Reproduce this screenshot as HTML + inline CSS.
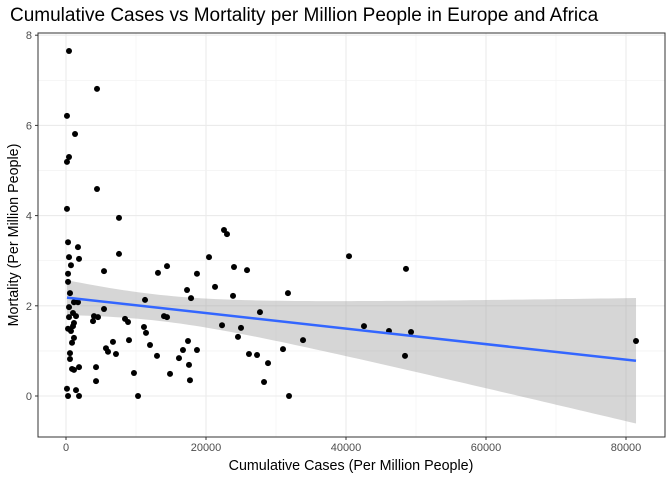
<!DOCTYPE html>
<html><head><meta charset="utf-8"><style>
body{margin:0;background:#fff;font-family:"Liberation Sans",sans-serif}
svg{display:block}
</style></head><body>
<svg id="c" width="672" height="480" xmlns="http://www.w3.org/2000/svg">
<text x="10" y="21" font-size="19" fill="#000">Cumulative Cases vs Mortality per Million People in Europe and Africa</text>
<text x="351" y="470" font-size="14.3" text-anchor="middle" fill="#000">Cumulative Cases (Per Million People)</text>
<text transform="translate(18,235) rotate(-90)" font-size="14.3" text-anchor="middle" fill="#000">Mortality (Per Million People)</text>
<g id="grid"></g><g id="ribbon"></g><g id="pts"></g><g id="axes"></g>
</svg>
<script>
const xs=[430,4430,140,1290,430,140,4430,140,7570,290,1710,430,1860,7570,710,5430,290,13140,14430,20430,18710,290,21290,17290,17860,570,11290,5430,14000,14430,430,1140,1710,1000,1430,430,4000,4570,3860,8430,8860,1140,1000,290,710,11140,11430,1140,860,6710,9000,12000,17430,16710,18710,5710,6000,7140,570,570,13000,16140,17570,860,1140,1860,4290,9710,14860,4290,17710,140,1430,290,1860,10290,22570,23000,24000,25860,23860,27710,22290,25000,24570,26140,27290,28860,28290,31710,31000,33860,31860,40430,42570,46140,48570,48430,49290,81430];
const ys=[7.65,6.81,6.21,5.81,5.30,5.19,4.59,4.15,3.95,3.41,3.30,3.08,3.04,3.15,2.90,2.77,2.71,2.73,2.88,3.08,2.71,2.53,2.42,2.35,2.17,2.28,2.13,1.93,1.77,1.75,1.97,2.08,2.08,1.84,1.77,1.75,1.77,1.75,1.66,1.71,1.64,1.62,1.55,1.49,1.44,1.53,1.40,1.29,1.18,1.20,1.24,1.13,1.22,1.02,1.02,1.06,0.98,0.93,0.95,0.82,0.89,0.84,0.69,0.60,0.58,0.64,0.64,0.51,0.49,0.33,0.35,0.16,0.13,0,0,0,3.68,3.59,2.86,2.79,2.22,1.86,1.57,1.51,1.31,0.93,0.91,0.73,0.31,2.28,1.04,1.24,0,3.10,1.55,1.44,2.82,0.89,1.42,1.22];
const xTicks=[0,20000,40000,60000,80000];
const yTicks=[0,2,4,6,8];
const NS="http://www.w3.org/2000/svg";
const L=38,R=665,T=33,B=437;
const X=v=>66+v*0.007, Y=v=>396-v*45.1;
function mk(t,a,p){const e=document.createElementNS(NS,t);for(const k in a)e.setAttribute(k,a[k]);p.appendChild(e);return e;}
const g=document.getElementById('grid');
const bg=mk('rect',{x:L,y:T,width:R-L,height:B-T,fill:'#fff'},g);


for(let i=0;i<xTicks.length;i++){
  const m=xTicks[i]+10000;
  if(X(m)<R) mk('line',{x1:X(m),x2:X(m),y1:T,y2:B,stroke:'#f2f2f2','stroke-width':0.6},g);
  const l=mk('line',{x1:X(xTicks[i]),x2:X(xTicks[i]),y1:T,y2:B,stroke:'#ebebeb','stroke-width':1.1},g);
  
  
}
for(let i=0;i<yTicks.length;i++){
  for(const m of [yTicks[i]-1,yTicks[i]+1]) if(Y(m)>T&&Y(m)<B) mk('line',{x1:L,x2:R,y1:Y(m),y2:Y(m),stroke:'#f2f2f2','stroke-width':0.6},g);
  const l=mk('line',{x1:L,x2:R,y1:Y(yTicks[i]),y2:Y(yTicks[i]),stroke:'#ebebeb','stroke-width':1.1},g);
  
  
}
const n=xs.length;let mx=0,my=0;for(let i=0;i<n;i++){mx+=xs[i];my+=ys[i];}mx/=n;my/=n;
let sxx=0,sxy=0;for(let i=0;i<n;i++){sxx+=(xs[i]-mx)**2;sxy+=(xs[i]-mx)*(ys[i]-my);}
const b=sxy/sxx,a=my-b*mx;let sse=0;for(let i=0;i<n;i++)sse+=(ys[i]-a-b*xs[i])**2;
const s=Math.sqrt(sse/(n-2)),t=1.985;
let x0=Math.min(...xs),x1=Math.max(...xs);const up=[],lo=[];
for(let k=0;k<=80;k++){const x=x0+(x1-x0)*k/80,f=a+b*x,se=s*Math.sqrt(1/n+(x-mx)**2/sxx);up.push(X(x)+','+Y(f+t*se));lo.unshift(X(x)+','+Y(f-t*se));}
const rb=document.getElementById('ribbon');
const poly=mk('polygon',{points:up.concat(lo).join(' '),fill:'#999',opacity:0.4},rb);


const p=document.getElementById('pts');
for(let i=0;i<n;i++){const c=mk('circle',{cx:X(xs[i]),cy:Y(ys[i]),r:3,fill:'#000'},p);

}
const ln=mk('line',{x1:X(x0),y1:Y(a+b*x0),x2:X(x1),y2:Y(a+b*x1),stroke:'#3366ff','stroke-width':2.5},rb.parentNode);


const ax=document.getElementById('axes');
mk('rect',{x:L,y:T,width:R-L,height:B-T,fill:'none',stroke:'#333','stroke-width':1},ax);
for(let i=0;i<xTicks.length;i++){mk('line',{x1:X(xTicks[i]),x2:X(xTicks[i]),y1:B,y2:B+3,stroke:'#333'},ax);
const tx=mk('text',{x:X(xTicks[i]),y:B+14,'font-size':11,'text-anchor':'middle',fill:'#4d4d4d'},ax);tx.textContent=xTicks[i];

}
for(let i=0;i<yTicks.length;i++){mk('line',{x1:L-3,x2:L,y1:Y(yTicks[i]),y2:Y(yTicks[i]),stroke:'#333'},ax);
const ty=mk('text',{x:L-6,y:Y(yTicks[i])+4,'font-size':11,'text-anchor':'end',fill:'#4d4d4d'},ax);ty.textContent=yTicks[i];

}
</script>
</body></html>
